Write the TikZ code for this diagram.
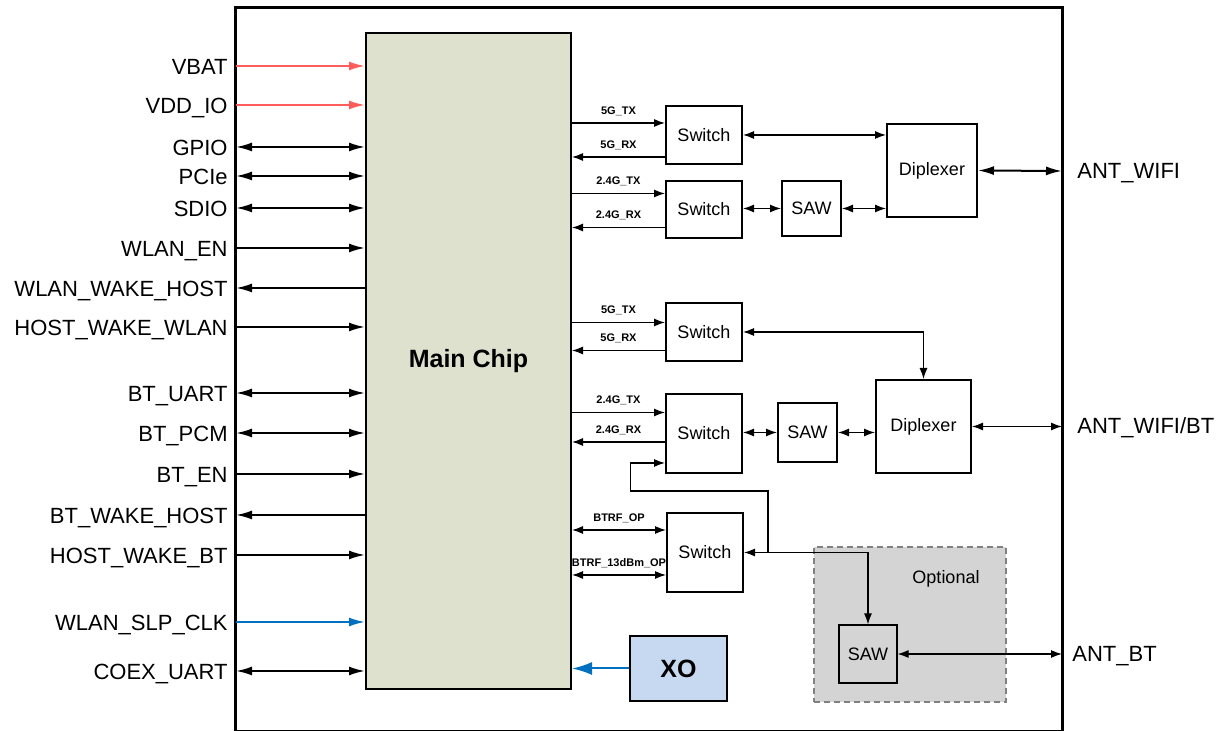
\documentclass[tikz,border=0pt]{standalone}
\usepackage{fontspec}
\setmainfont{Liberation Sans}
\usetikzlibrary{arrows.meta}

\definecolor{chipfill}{RGB}{221,225,205}
\definecolor{xofill}{RGB}{198,217,241}
\definecolor{optfill}{RGB}{212,212,212}
\definecolor{pwr}{RGB}{255,92,92}
\definecolor{clk}{RGB}{0,112,192}

\begin{document}
\begin{tikzpicture}[x=0.5pt,y=-0.5pt]

\tikzset{
    shell/.style={line width=1.5pt},
    box/.style={draw,line width=1pt,inner sep=0pt,font=\fontsize{9}{10}\selectfont},
    lbl/.style={inner sep=0pt,font=\fontsize{9}{10}\selectfont},
    sig/.style={inner sep=0pt,font=\fontsize{11}{13}\selectfont},
    tag/.style={inner sep=1pt,text depth=0pt,above=3pt,font=\bfseries\fontsize{5.5}{6}\selectfont},
    rf/.style={line width=0.6pt,>={Latex[length=5.5pt,width=4pt]}},
    pinline/.style={line width=1pt,>={Latex[length=8pt,width=4.5pt]}},
    pwrin/.style={pinline,pwr,->},
    clkin/.style={pinline,clk,->},
    sigin/.style={pinline,->},
    sigout/.style={pinline,<-},
    sigio/.style={pinline,<->}
}

\useasboundingbox (0,0) rectangle (1223,731);
\clip (0,0) rectangle (1223,731);

\draw[shell] (235,8) rectangle (1062,732);

\node[box,fill=chipfill,minimum width=102.5pt,minimum height=328pt,font=\bfseries\fontsize{12.5}{14}\selectfont] (chip) at (468.5,361) {Main Chip};

\foreach \y/\name/\kind in {66/VBAT/pwrin,105/VDD\_IO/pwrin,147/GPIO/sigio,176/PCIe/sigio,208/SDIO/sigio,
    248/WLAN\_EN/sigin,288/WLAN\_WAKE\_HOST/sigout,327/HOST\_WAKE\_WLAN/sigin,
    393/BT\_UART/sigio,433/BT\_PCM/sigio,474/BT\_EN/sigin,515/BT\_WAKE\_HOST/sigout,
    555/HOST\_WAKE\_BT/sigin,622/WLAN\_SLP\_CLK/clkin,671/COEX\_UART/sigio}
{
    \node[sig,anchor=base east] (lbl\y) at (228,\y+8.5) {\name};
    \coordinate (pin\y) at (236,\y);
    \draw[\kind] (pin\y) -- (pin\y -| chip.west);
}

\node[box,minimum width=38pt,minimum height=29pt] (sw1) at (704,135) {Switch};
\node[box,minimum width=38pt,minimum height=28.5pt] (sw2) at (704,209.5) {Switch};
\node[box,minimum width=29.5pt,minimum height=27.5pt] (saw1) at (811.5,208.5) {SAW};
\node[box,minimum width=45pt,minimum height=46.5pt] (dip1) at (932,170.5) {Diplexer};

\node[box,minimum width=38pt,minimum height=29pt] (sw3) at (704,332) {Switch};
\node[box,minimum width=38pt,minimum height=39.5pt] (sw4) at (704,433.5) {Switch};
\node[box,minimum width=29.5pt,minimum height=29.5pt] (saw2) at (807.5,432.5) {SAW};
\node[box,minimum width=47.5pt,minimum height=46.5pt] (dip2) at (923.5,426.5) {Diplexer};

\node[box,minimum width=38pt,minimum height=39.5pt] (sw5) at (705,552.5) {Switch};

\node[draw=gray,dashed,dash pattern=on 3pt off 2pt,fill=optfill,line width=0.6pt,minimum width=96pt,minimum height=77.5pt,inner sep=0pt] (opt) at (910,624.5) {};
\node[lbl] (optlbl) at (946,579) {Optional};
\node[box,fill=optfill,line width=0.6pt,minimum width=29pt,minimum height=29pt] (saw3) at (868,654) {SAW};

\node[box,fill=xofill,minimum width=48.5pt,minimum height=32.5pt,font=\bfseries\fontsize{12.5}{14}\selectfont] (xo) at (678.5,668.5) {XO};

\draw[rf,->] (chip.east |- 0,123) -- node[tag] (t1) {5G\_TX} (sw1.west |- 0,123);
\draw[rf,<-] (chip.east |- 0,157) -- node[tag] (t2) {5G\_RX} (sw1.west |- 0,157);
\draw[rf,->] (chip.east |- 0,193.5) -- node[tag] (t3) {2.4G\_TX} (sw2.west |- 0,193.5);
\draw[rf,<-] (chip.east |- 0,227.5) -- node[tag] (t4) {2.4G\_RX} (sw2.west |- 0,227.5);

\draw[rf,->] (chip.east |- 0,322.5) -- node[tag] (t5) {5G\_TX} (sw3.west |- 0,322.5);
\draw[rf,<-] (chip.east |- 0,350.5) -- node[tag] (t6) {5G\_RX} (sw3.west |- 0,350.5);
\draw[rf,->] (chip.east |- 0,412.5) -- node[tag] (t7) {2.4G\_TX} (sw4.west |- 0,412.5);
\draw[rf,<-] (chip.east |- 0,442) -- node[tag] (t8) {2.4G\_RX} (sw4.west |- 0,442);

\draw[rf,<->] (chip.east |- 0,530) -- node[tag] (t9) {BTRF\_OP} (sw5.west |- 0,530);
\draw[rf,<->] (chip.east |- 0,575) -- node[tag] (t10) {BTRF\_13dBm\_OP} (sw5.west |- 0,575);

\draw[rf,<->] (sw1.east) -- (sw1.east -| dip1.west);
\draw[rf,<->] (saw1.west -| sw2.east) -- (saw1.west);
\draw[rf,<->] (saw1.east) -- (saw1.east -| dip1.west);

\draw[rf,<->] (sw3.east) -| (dip2.north);
\draw[rf,<->] (saw2.west -| sw4.east) -- (saw2.west);
\draw[rf,<->] (saw2.east) -- (saw2.east -| dip2.west);

\coordinate (antwifi) at (1062,171);
\coordinate (antwifibt) at (1062,426.5);
\coordinate (antbt) at (1062,654);
\node[sig,anchor=base west] (antwifilbl) at (1077,178.5) {ANT\_WIFI};
\node[sig,anchor=base west] (antwifibtlbl) at (1077,434) {ANT\_WIFI/BT};
\node[sig,anchor=base west] (antbtlbl) at (1072,661.5) {ANT\_BT};

\draw[pinline,<->] (dip1.east) -- (antwifi);
\draw[rf,<->] (dip2.east) -- (antwifibt);
\draw[rf,<->] (saw3.east) -- (antbt);

\draw[rf,<->] (sw5.east) -| (saw3.north);
\coordinate (btsplit) at (768,552.5);
\coordinate (btbend) at (630.5,491);
\draw[rf,->] (btsplit) |- (btbend) |- (sw4.west |- 0,463);

\draw[line width=1pt,clk,>={Latex[length=10pt,width=6.5pt]},->] (xo.west) -- (xo.west -| chip.east);

\end{tikzpicture}
\end{document}
